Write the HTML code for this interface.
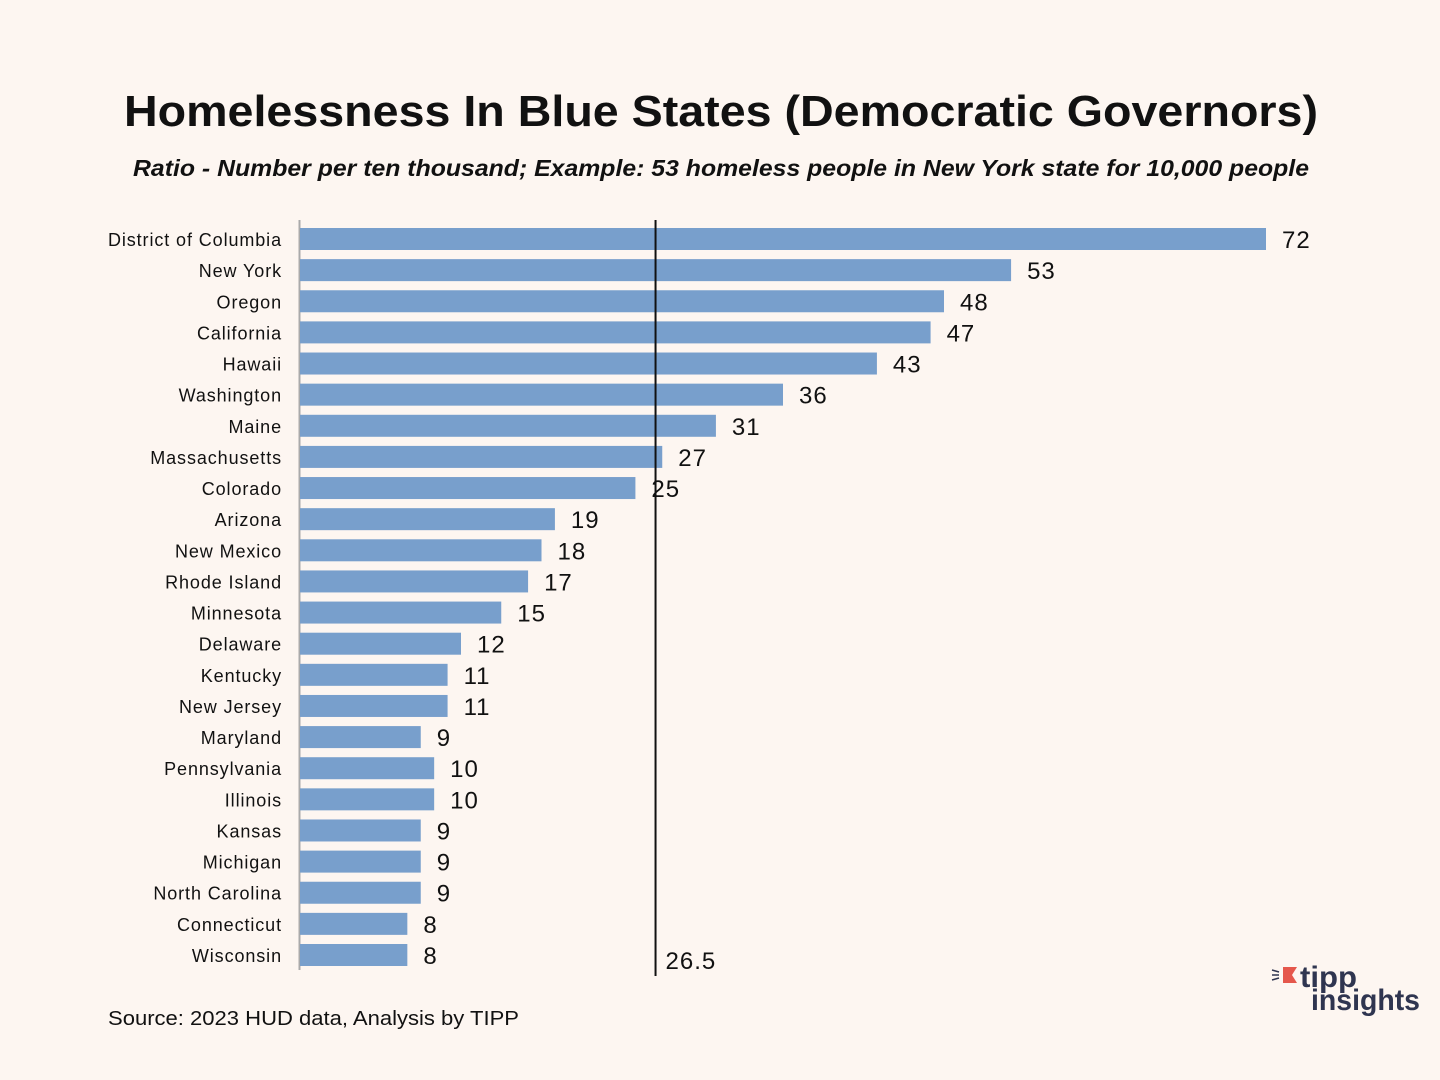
<!DOCTYPE html>
<html><head><meta charset="utf-8"><style>
body{margin:0;background:#fdf6f1;}
#c{position:relative;width:1440px;height:1080px;background:#fdf6f1;font-family:"Liberation Sans",sans-serif;color:#111;overflow:hidden}
</style></head><body>
<div id="c">
<svg id="s" width="1440" height="1080">
<text x="124" y="126" textLength="1194" lengthAdjust="spacingAndGlyphs" font-size="44" font-weight="bold" fill="#111">Homelessness In Blue States (Democratic Governors)</text>
<text x="133" y="176" textLength="1176" lengthAdjust="spacingAndGlyphs" font-size="23" font-weight="bold" font-style="italic" fill="#111">Ratio - Number per ten thousand; Example: 53 homeless people in New York state for 10,000 people</text>
<line x1="299.5" y1="220" x2="299.5" y2="970" stroke="#aaa" stroke-width="2"/>
<g id="bars"></g>
<text x="108" y="1025" textLength="411" lengthAdjust="spacingAndGlyphs" font-size="20" fill="#111">Source: 2023 HUD data, Analysis by TIPP</text>
<g>
<polygon points="1283,967 1297,967 1292,975 1297,983 1283,983" fill="#e5574c"/>
<line x1="1272" y1="970" x2="1279" y2="972" stroke="#2f3550" stroke-width="1.5"/>
<line x1="1272" y1="975" x2="1279" y2="975" stroke="#2f3550" stroke-width="1.5"/>
<line x1="1272" y1="980" x2="1279" y2="978" stroke="#2f3550" stroke-width="1.5"/>
<text x="1300" y="987" textLength="57" lengthAdjust="spacingAndGlyphs" font-size="30" font-weight="bold" fill="#2f3550">tipp</text>
<text x="1311" y="1010" textLength="109" lengthAdjust="spacingAndGlyphs" font-size="30" font-weight="bold" fill="#2f3550">insights</text>
</g>
</svg>
</div>
<script>
const states=["District of Columbia","New York","Oregon","California","Hawaii","Washington","Maine","Massachusetts","Colorado","Arizona","New Mexico","Rhode Island","Minnesota","Delaware","Kentucky","New Jersey","Maryland","Pennsylvania","Illinois","Kansas","Michigan","North Carolina","Connecticut","Wisconsin"];
const values=[72,53,48,47,43,36,31,27,25,19,18,17,15,12,11,11,9,10,10,9,9,9,8,8];
const avgValue=26.5;
const NS="http://www.w3.org/2000/svg";
const x=v=>300+v*(966/72);
const y=i=>239+i*(716/23);
const g=document.getElementById('bars');
function mk(t,a){const e=document.createElementNS(NS,t);for(const k in a)e.setAttribute(k,a[k]);return e;}
states.forEach((s,i)=>{
 const r=mk('rect',{x:300,y:y(i)-11,width:x(values[i])-300,height:22,fill:'#789fcc'});
 
 
 g.appendChild(r);
 const l=mk('text',{x:282,y:y(i)+7,'text-anchor':'end','font-size':18,'letter-spacing':'0.9',fill:'#111'});
 l.textContent=s;
 
 
 g.appendChild(l);
 const v=mk('text',{x:x(values[i])+16,y:y(i)+9,'font-size':24,'letter-spacing':'1',fill:'#111'});
 v.textContent=values[i];
 
 
 g.appendChild(v);
});
const al=mk('line',{x1:x(avgValue),y1:220,x2:x(avgValue),y2:976,stroke:'#111','stroke-width':2});


g.appendChild(al);
const at=mk('text',{x:x(avgValue)+10,y:969,'font-size':24,'letter-spacing':'1',fill:'#111'});
at.textContent=avgValue;


g.appendChild(at);
</script>
</body></html>
